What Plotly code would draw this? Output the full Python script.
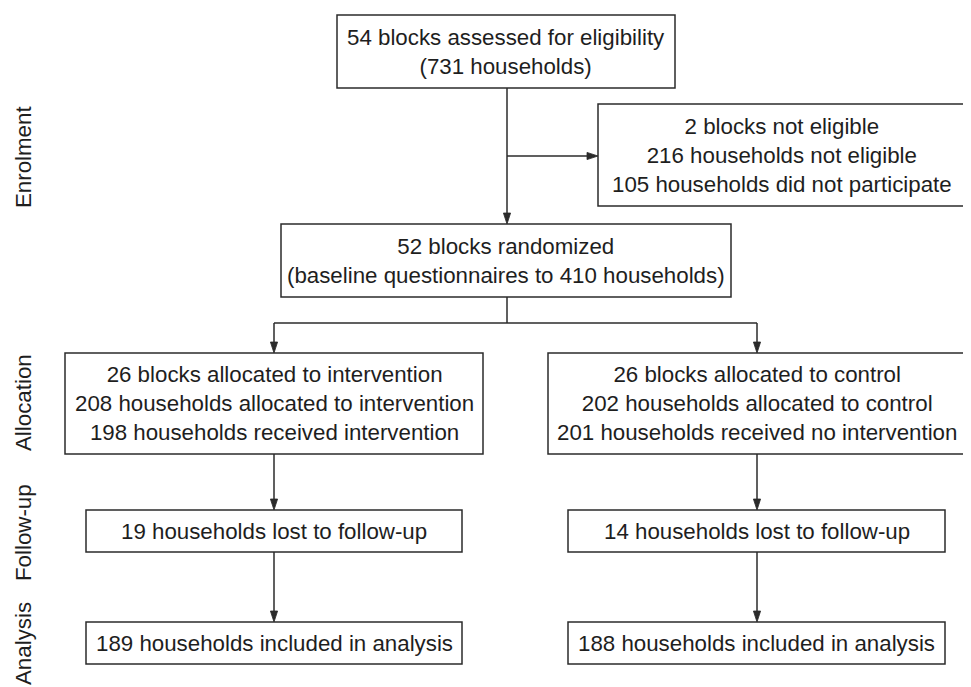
import plotly.graph_objects as go

W, H = 971, 687
OFF = 8  # default page body margin of the html page

# ---- content ----
box_lines = [
    ["54 blocks assessed for eligibility", "(731 households)"],
    ["2 blocks not eligible", "216 households not eligible", "105 households did not participate"],
    ["52 blocks randomized", "(baseline questionnaires to 410 households)"],
    ["26 blocks allocated to intervention", "208 households allocated to intervention",
     "198 households received intervention"],
    ["26 blocks allocated to control", "202 households allocated to control",
     "201 households received no intervention"],
    ["19 households lost to follow-up"],
    ["14 households lost to follow-up"],
    ["189 households included in analysis"],
    ["188 households included in analysis"],
]
stage_labels = ["Enrolment", "Allocation", "Follow-up", "Analysis"]

# ---- layout geometry (pixels) ----
box_geom = [  # x0, x1, y0, y1
    (337, 675, 15, 88),
    (598, 966, 104, 206),
    (281, 731, 224, 297),
    (65, 483, 353, 454),
    (548, 966, 353, 454),
    (86, 462, 510, 552),
    (568, 945, 510, 552),
    (86, 462, 622, 664),
    (568, 945, 622, 664),
]
stage_y = [157, 403, 533, 644]
stage_x = 23

LINE = "#2b2b2b"
TEXT = "#1e1e1e"
FONT = "Liberation Sans, Arial, sans-serif"
FS = 22.3
LW = 1.5

fig = go.Figure()

for (x0, x1, y0, y1), lines in zip(box_geom, box_lines):
    fig.add_shape(type="rect", x0=x0, x1=x1, y0=y0, y1=y1,
                  line=dict(color=LINE, width=LW), fillcolor="rgba(0,0,0,0)",
                  xref="x", yref="y", layer="above")
    fig.add_annotation(x=(x0 + x1) / 2, y=(y0 + y1) / 2, text="<br>".join(lines),
                       showarrow=False, xanchor="center", yanchor="middle",
                       align="center", font=dict(family=FONT, size=FS, color=TEXT))

for lab, yy in zip(stage_labels, stage_y):
    fig.add_annotation(x=stage_x, y=yy, text=lab, textangle=-90, showarrow=False,
                       xanchor="center", yanchor="middle",
                       font=dict(family=FONT, size=FS, color=TEXT))


def seg(x0, y0, x1, y1):
    fig.add_shape(type="line", x0=x0, y0=y0, x1=x1, y1=y1,
                  line=dict(color=LINE, width=LW), xref="x", yref="y")


def arrow(x0, y0, x1, y1, L=11, hw=3.6):
    dx, dy = x1 - x0, y1 - y0
    n = (dx * dx + dy * dy) ** 0.5
    ux, uy = dx / n, dy / n
    bx, by = x1 - ux * L, y1 - uy * L
    seg(x0, y0, bx, by)
    px, py = -uy * hw, ux * hw
    path = (f"M {bx + px},{by + py} L {bx - px},{by - py} L {x1},{y1} Z")
    fig.add_shape(type="path", path=path, fillcolor=LINE,
                  line=dict(color=LINE, width=0.8), xref="x", yref="y")


# connectors derived from box geometry
top, excl, mid, aL, aR, fL, fR, nL, nR = box_geom
cx = 507
arrow(cx, top[3], cx, mid[2])
arrow(cx, 156, excl[0], 156)
split_y = 323
xl = (aL[0] + aL[1]) / 2
xr = (aR[0] + aR[1]) / 2
seg(cx, mid[3], cx, split_y)
seg(xl, split_y, xr, split_y)
arrow(xl, split_y, xl, aL[2])
arrow(xr, split_y, xr, aR[2])
arrow(xl, aL[3], xl, fL[2])
arrow(xr, aR[3], xr, fR[2])
arrow(xl, fL[3], xl, nL[2])
arrow(xr, fR[3], xr, nR[2])

fig.update_layout(
    width=W - OFF, height=H - OFF, margin=dict(l=0, r=0, t=0, b=0),
    paper_bgcolor="white", plot_bgcolor="white", showlegend=False,
    xaxis=dict(range=[OFF, W], visible=False, fixedrange=True),
    yaxis=dict(range=[H, OFF], visible=False, fixedrange=True),
)

fig.write_html("out.html")
